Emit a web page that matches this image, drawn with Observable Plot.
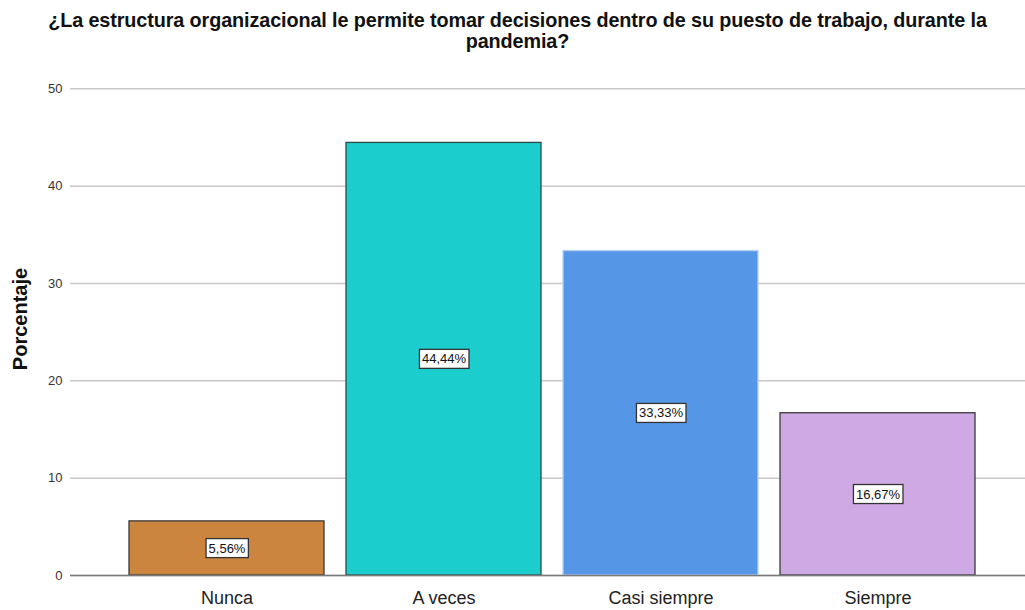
<!DOCTYPE html>
<html><head><meta charset="utf-8">
<script src="https://cdn.jsdelivr.net/npm/d3@7"></script>
<script src="https://cdn.jsdelivr.net/npm/@observablehq/plot@0.6"></script>
<style>
body{margin:0;background:#fff;font-family:"Liberation Sans",Arial,sans-serif;}
#title{width:1035px;height:56px;box-sizing:border-box;padding-top:10px;text-align:center;font-weight:bold;font-size:19.8px;line-height:21px;color:#111;letter-spacing:-0.1px;}
</style></head>
<body>
<div id="title">¿La estructura organizacional le permite tomar decisiones dentro de su puesto de trabajo, durante la<br>pandemia?</div>
<div id="chart"></div>
<script>
const categories = ["Nunca", "A veces", "Casi siempre", "Siempre"];
const values = [5.56, 44.44, 33.33, 16.67];
const labels = ["5,56%", "44,44%", "33,33%", "16,67%"];
const colors = ["#cc853f", "#1ccdcd", "#5597e6", "#cfa9e3"];
const strokes = ["#3a3a3a", "#2a4a4a", "#b8d0f0", "#3a3a3a"];
const yTicks = [0, 10, 20, 30, 40, 50];

const data = categories.map((c, i) => ({cat: c, val: values[i], label: labels[i], color: colors[i], stroke: strokes[i]}));

const chart = Plot.plot({
  width: 1025,
  height: 554,
  marginLeft: 70,
  marginRight: 0,
  marginTop: 6,
  marginBottom: 35,
  style: {fontFamily: "'Liberation Sans', Arial, sans-serif", background: "#fff"},
  x: {domain: categories, paddingInner: 0.1, paddingOuter: 0.25, align: 0.54},
  y: {domain: [0, 52.7]},
  marks: [
    Plot.gridY(yTicks, {stroke: "#c8c8c8", strokeOpacity: 1, strokeWidth: 1.5}),
    Plot.barY(data, {x: "cat", y: "val", fill: "color", stroke: "stroke", strokeWidth: 1.3}),
    Plot.ruleY([0], {stroke: "#7a7a7a", strokeWidth: 1.5}),
    Plot.axisY(yTicks, {tickSize: 0, tickPadding: 8, fontSize: 13, fill: "#333", label: "Porcentaje", labelAnchor: "center", labelOffset: 58, line: true, stroke: "#8a8a8a"}),
    Plot.axisX({tickSize: 0, tickPadding: 16, fontSize: 18, fill: "#222", label: null}),
    Plot.text(data, {x: "cat", y: d => d.val / 2, text: "label", fontSize: 13, fill: "#111"})
  ]
});
document.getElementById("chart").appendChild(chart);

// y label style
chart.querySelectorAll('g[aria-label="y-axis label"] text').forEach(t => {
  t.textContent = "Porcentaje";
  t.style.fontWeight = "bold";
  t.style.fontSize = "20px";
  t.setAttribute("fill", "#111");
});
// boxes behind value labels
chart.querySelectorAll('g[aria-label="text"] text').forEach(t => {
  const b = t.getBBox();
  const r = document.createElementNS("http://www.w3.org/2000/svg", "rect");
  r.setAttribute("x", b.x - 2.5);
  r.setAttribute("y", b.y - 2);
  r.setAttribute("width", b.width + 5);
  r.setAttribute("height", b.height + 4);
  r.setAttribute("fill", "#fff");
  r.setAttribute("stroke", "#333");
  r.setAttribute("stroke-width", "1.3");
  const tr = t.getAttribute("transform");
  if (tr) r.setAttribute("transform", tr);
  t.parentNode.insertBefore(r, t);
});
</script>
</body></html>
